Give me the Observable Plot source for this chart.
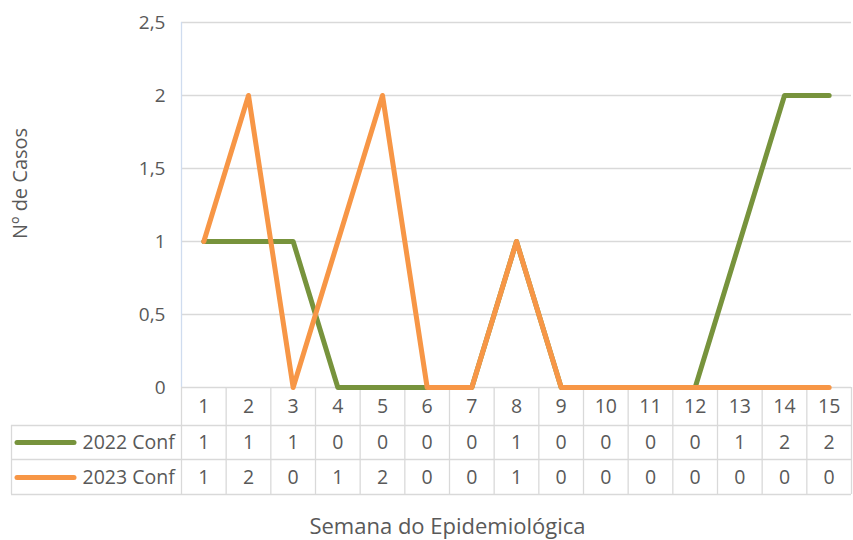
<!DOCTYPE html>
<html>
<head>
<meta charset="utf-8">
<script src="https://cdn.jsdelivr.net/npm/d3@7"></script>
<script src="https://cdn.jsdelivr.net/npm/@observablehq/plot@0.6"></script>
<style>
  html, body { margin: 0; padding: 0; background: #fff; }
  #chart { width: 853px; height: 540px; }
</style>
</head>
<body>
<div id="chart"></div>
<script>
// ---- data ----
const weeks = [1, 2, 3, 4, 5, 6, 7, 8, 9, 10, 11, 12, 13, 14, 15];
const conf2022 = [1, 1, 1, 0, 0, 0, 0, 1, 0, 0, 0, 0, 1, 2, 2];
const conf2023 = [1, 2, 0, 1, 2, 0, 0, 1, 0, 0, 0, 0, 0, 0, 0];
const seriesNames = ["2022 Conf", "2023 Conf"];
const yTicks = [0, 0.5, 1, 1.5, 2, 2.5];
const yTitle = "Nº de Casos";
const xTitle = "Semana do Epidemiológica";

// ---- layout ----
const W = 853, H = 540;
const L = 181, R = 851, T = 22, Z = 387;
const colors = ["#77933C", "#F79646"];
const textColor = "#595959";
const gridColor = "#d9d9d9";
const font = "'Open Sans', 'Noto Sans', sans-serif";
const rowEdgesPx = [387, 425, 459, 494];
const rowCentersPx = [406, 442, 477];
const tableLeftPx = 11;

const xDomain = [0.5, 15.5], yDomain = [0, 2.5];
const xpx = p => xDomain[0] + (p - L) * (xDomain[1] - xDomain[0]) / (R - L);
const ypx = p => (Z - p) * (yDomain[1] - yDomain[0]) / (Z - T);

const series = [conf2022, conf2023].map((vals, i) => ({
  name: seriesNames[i],
  color: colors[i],
  rowY: ypx(rowCentersPx[i + 1]),
  points: weeks.map((w, j) => ({week: w, v: vals[j]}))
}));
const cells = series.flatMap(s => s.points.map(p => ({...p, rowY: s.rowY})));
const colEdges = d3.range(0, weeks.length + 1).map(i => xDomain[0] + i);
const fmt = d => String(d).replace(".", ",");

const plot = Plot.plot({
  width: W,
  height: H,
  marginLeft: L, marginRight: W - R, marginTop: T, marginBottom: H - Z,
  x: {domain: xDomain, range: [L, R], axis: null},
  y: {domain: yDomain, range: [Z, T], axis: null},
  style: {fontFamily: font, background: "white", overflow: "visible"},
  marks: [
    // gridlines
    Plot.ruleY(yTicks.slice(1), {x1: xDomain[0], x2: xDomain[1], stroke: gridColor, strokeWidth: 1.3}),
    // value axis line
    Plot.ruleX([xDomain[0]], {y1: yDomain[0], y2: yDomain[1], stroke: "#cfdcef", strokeWidth: 1.3}),
    // table horizontal lines
    Plot.ruleY([0], {x1: xDomain[0], x2: xDomain[1], stroke: gridColor, strokeWidth: 1.3}),
    Plot.ruleY(rowEdgesPx.slice(1).map(ypx), {x1: xpx(tableLeftPx), x2: xDomain[1], stroke: gridColor, strokeWidth: 1.3}),
    // table vertical lines
    Plot.ruleX(colEdges, {y1: 0, y2: ypx(rowEdgesPx[3]), stroke: gridColor, strokeWidth: 1.3}),
    Plot.ruleX([xpx(tableLeftPx)], {y1: ypx(rowEdgesPx[1]), y2: ypx(rowEdgesPx[3]), stroke: gridColor, strokeWidth: 1.3}),
    // y tick labels
    Plot.text(yTicks, {x: xDomain[0], y: d => d, text: fmt, textAnchor: "end", dx: -16, fontSize: 19, fill: textColor}),
    // lines
    ...series.map(s => Plot.line(s.points, {
      x: "week", y: "v", stroke: s.color, strokeWidth: 5,
      strokeLinejoin: "round", strokeLinecap: "round"
    })),
    // table header (weeks)
    Plot.text(weeks, {x: d => d, y: ypx(rowCentersPx[0]), text: d => String(d), fontSize: 19.5, fill: textColor}),
    // table values
    Plot.text(cells, {x: "week", y: "rowY", text: d => String(d.v), fontSize: 19.5, fill: textColor}),
    // legend swatches + labels
    Plot.ruleY(series, {y: "rowY", x1: xpx(17), x2: xpx(74), stroke: "color", strokeWidth: 5, strokeLinecap: "round"}),
    Plot.text(series, {x: xpx(82), y: "rowY", text: "name", textAnchor: "start", fontSize: 19.5, fill: textColor}),
    // titles
    Plot.text([yTitle], {x: xpx(20), y: ypx(183), text: d => d, rotate: -90, fontSize: 20, fill: textColor}),
    Plot.text([xTitle], {x: xpx(447), y: ypx(526), text: d => d, fontSize: 22, fill: textColor})
  ]
});
document.getElementById("chart").appendChild(plot);
</script>
</body>
</html>
